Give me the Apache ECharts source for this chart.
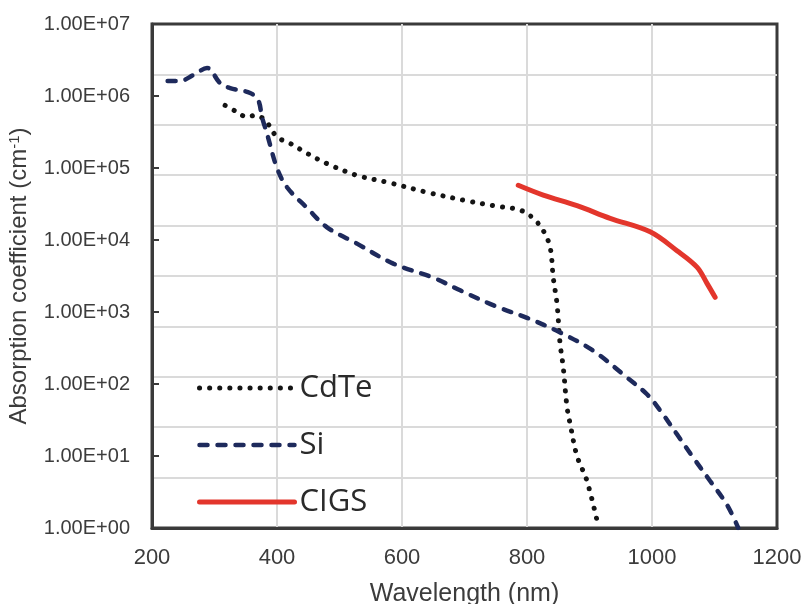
<!DOCTYPE html>
<html>
<head>
<meta charset="utf-8">
<script src="https://cdn.jsdelivr.net/npm/echarts@6/dist/echarts.min.js"></script>
<style>
  html, body { margin: 0; padding: 0; background: #ffffff; }
  #chart { width: 807px; height: 604px; }
</style>
</head>
<body>
<div id="chart"></div>
<script>
// Absorption coefficient (cm^-1) against wavelength (nm)
const cdteWavelength = [317, 336, 352, 365, 381, 400, 421, 448, 480, 528, 581, 640, 704, 746, 789, 810, 826, 837, 842, 848, 853, 858, 864, 869, 880, 896, 914];
const cdteAbsorption = [7.4e5, 6.0e5, 5.1e5, 5.4e5, 4.6e5, 2.7e5, 2.2e5, 1.6e5, 1.15e5, 7.9e4, 6.2e4, 4.6e4, 3.5e4, 3.0e4, 2.6e4, 2.0e4, 1.35e4, 7.9e3, 3.0e3, 1.3e3, 360, 170, 48, 28, 10, 4.5, 1.07];

const siWavelength = [225, 245, 266, 288, 309, 325, 357, 370, 376, 384, 400, 416, 448, 480, 528, 586, 650, 693, 750, 800, 853, 906, 960, 992, 1013, 1040, 1066, 1093, 1120, 1138];
const siAbsorption = [1.62e6, 1.62e6, 1.95e6, 2.45e6, 1.51e6, 1.29e6, 1.10e6, 8.7e5, 5.1e5, 3.0e5, 1.0e5, 5.4e4, 2.8e4, 1.5e4, 8.9e3, 4.7e3, 3.0e3, 2.0e3, 1.2e3, 830, 520, 290, 123, 72, 43, 20, 9.5, 4.5, 2.1, 1.0];

const cigsWavelength = [786, 826, 880, 933, 997, 1040, 1072, 1088, 1101];
const cigsAbsorption = [5.75e4, 4.2e4, 3.0e4, 2.0e4, 1.3e4, 7.1e3, 4.2e3, 2.5e3, 1.6e3];

const seriesNames = ['CdTe', 'Si', 'CIGS'];
const xTickValues = [200, 400, 600, 800, 1000, 1200];
const yTickLabels = ['1.00E+00', '1.00E+01', '1.00E+02', '1.00E+03', '1.00E+04', '1.00E+05', '1.00E+06', '1.00E+07'];

const pairs = (xs, ys) => xs.map((x, i) => [x, ys[i]]);

const chart = echarts.init(document.getElementById('chart'), null, { renderer: 'canvas' });

const frameColor = '#3a3a3a';
const gridColor = '#dadada';
const textColor = '#3c3c3c';

const styles = {
  CdTe: { color: '#141414', width: 5, type: [0.1, 10], cap: 'round' },
  Si: { color: '#1e2a5c', width: 4.5, type: [8, 10], cap: 'round' },
  CIGS: { color: '#e3362c', width: 5, type: 'solid', cap: 'round' }
};

chart.setOption({
  animation: false,
  backgroundColor: '#ffffff',
  grid: {
    left: 152, right: 30, top: 24, bottom: 76,
    outerBoundsMode: 'none', containLabel: false,
    show: true, borderColor: frameColor, borderWidth: 3, backgroundColor: 'transparent'
  },
  legend: {
    orient: 'vertical',
    left: 192, top: 365,
    itemWidth: 95, itemHeight: 14, itemGap: 21,
    data: seriesNames.map(n => ({ name: n, lineStyle: styles[n] })),
    textStyle: { fontFamily: 'Open Sans', fontSize: 31, color: '#2a2a2a', lineHeight: 36 },
    itemStyle: { opacity: 0 }
  },
  xAxis: {
    type: 'value',
    min: xTickValues[0], max: xTickValues[xTickValues.length - 1], interval: 200,
    name: 'Wavelength (nm)', nameLocation: 'middle', nameGap: 54,
    nameTextStyle: { fontFamily: 'Liberation Sans', fontSize: 25, color: textColor },
    axisLine: { show: true, lineStyle: { color: frameColor, width: 3 } },
    axisTick: { show: false },
    axisLabel: { margin: 19, fontFamily: 'Liberation Sans', fontSize: 22, color: textColor, formatter: v => String(v) },
    splitLine: { show: true, showMinLine: false, showMaxLine: false, lineStyle: { color: gridColor, width: 2 } }
  },
  yAxis: [
    {
      type: 'log', logBase: 10, min: 1, max: 1e7, interval: 1, splitNumber: 7,
      name: 'Absorption coefficient (cm{sup|-1})', nameLocation: 'middle', nameGap: 120, nameRotate: 90,
      nameTextStyle: {
        fontFamily: 'Liberation Sans', fontSize: 24, color: textColor,
        rich: { sup: { fontFamily: 'Liberation Sans', fontSize: 15, color: textColor, verticalAlign: 'top', padding: [0, 0, 10, 0] } }
      },
      axisLine: { show: true, lineStyle: { color: frameColor, width: 3 } },
      axisTick: { show: true, inside: true, length: 7, lineStyle: { color: frameColor, width: 2 } },
      axisLabel: {
        margin: 22, fontFamily: 'Liberation Sans', fontSize: 20, color: textColor,
        formatter: v => yTickLabels[Math.round(Math.log10(v))]
      },
      splitLine: { show: false }
    },
    {
      // evenly spaced horizontal guide lines
      type: 'value', min: 0, max: 10, interval: 1, position: 'left',
      axisLine: { show: false }, axisTick: { show: false }, axisLabel: { show: false },
      splitLine: { show: true, showMinLine: false, showMaxLine: false, lineStyle: { color: gridColor, width: 2 } }
    }
  ],
  series: [
    {
      name: seriesNames[0], type: 'line', yAxisIndex: 0, symbol: 'none', smooth: 0.35,
      data: pairs(cdteWavelength, cdteAbsorption),
      lineStyle: styles.CdTe, itemStyle: { color: styles.CdTe.color }, z: 3
    },
    {
      name: seriesNames[1], type: 'line', yAxisIndex: 0, symbol: 'none', smooth: 0.35,
      data: pairs(siWavelength, siAbsorption),
      lineStyle: styles.Si, itemStyle: { color: styles.Si.color }, z: 3
    },
    {
      name: seriesNames[2], type: 'line', yAxisIndex: 0, symbol: 'none', smooth: 0.35,
      data: pairs(cigsWavelength, cigsAbsorption),
      lineStyle: styles.CIGS, itemStyle: { color: styles.CIGS.color }, z: 3
    }
  ]
});
</script>
</body>
</html>
